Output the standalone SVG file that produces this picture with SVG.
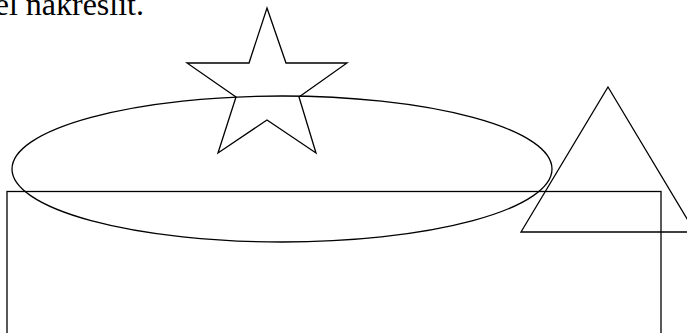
<svg xmlns="http://www.w3.org/2000/svg" width="687" height="333" viewBox="0 0 687 333">
<style>
.s{fill:none;stroke:#000;stroke-width:1.3}
.t{font-family:"Liberation Serif","Times New Roman",serif;font-size:32px;fill:#000}
</style>
<rect width="687" height="333" fill="#fff"/>
<text class="t" x="-5.3" y="15.3" textLength="149.3" lengthAdjust="spacingAndGlyphs">el nakreslit.</text>
<g id="star"><polygon class="s" points="267,8 286,63 347,63 299,97 316,153 267,120 218,153 236,97 187,63 249,63"/></g>
<g id="ellipse"><ellipse class="s" cx="282" cy="169" rx="270" ry="73"/></g>
<g id="triangle"><polygon class="s" points="608,87 695,232 521,232"/></g>
<g id="rect"><rect class="s" x="7" y="191.5" width="654" height="160"/></g>
</svg>
